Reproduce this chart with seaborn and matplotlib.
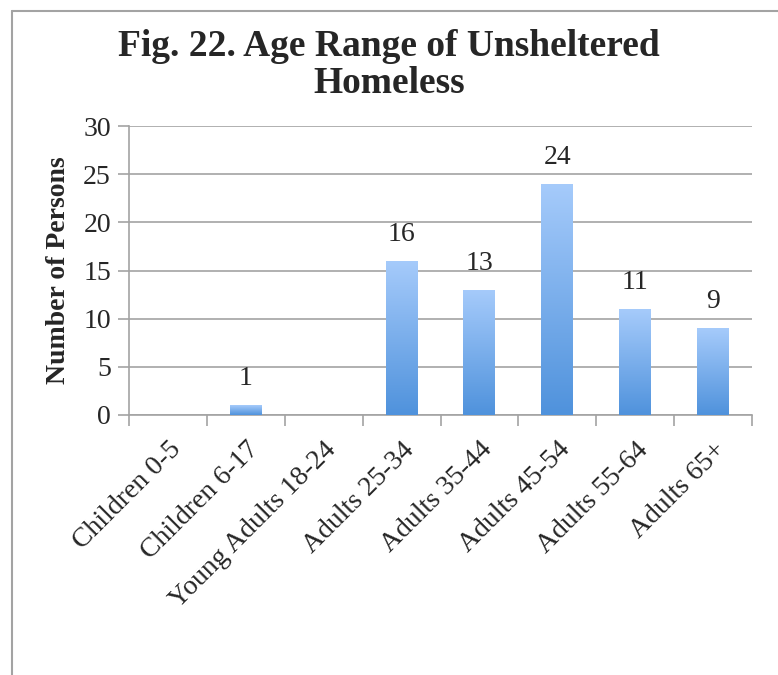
import numpy as np
import pandas as pd
import matplotlib
matplotlib.use('Agg')
import matplotlib.pyplot as plt
from matplotlib.colors import LinearSegmentedColormap
from matplotlib.lines import Line2D
import seaborn as sns

categories = ['Children 0-5', 'Children 6-17', 'Young Adults 18-24', 'Adults 25-34',
              'Adults 35-44', 'Adults 45-54', 'Adults 55-64', 'Adults 65+']
persons = [0, 1, 0, 16, 13, 24, 11, 9]
yticks = [0, 5, 10, 15, 20, 25, 30]

df = pd.DataFrame({'age': categories, 'persons': persons})

sns.set_style('white')
plt.rcParams['font.family'] = ['Liberation Serif', 'DejaVu Serif']

fig = plt.figure(figsize=(7.78, 6.75), dpi=100)
ax = fig.add_axes([129 / 778, 1 - 415 / 675, 623 / 778, 289 / 675])

sns.barplot(df, x='age', y='persons', width=0.41, color='#6fa6e6', ax=ax, zorder=2)

# vertical gradient inside each bar, light at the top, darker at the bottom
grad = LinearSegmentedColormap.from_list('bar', ['#4f92dc', '#a6cbfb'])
g = np.linspace(0, 1, 256).reshape(-1, 1)
for p in ax.patches:
    x0, y0 = p.get_x(), p.get_y()
    w, h = p.get_width(), p.get_height()
    if h <= 0:
        p.set_visible(False)
        continue
    im = ax.imshow(g, cmap=grad, aspect='auto', origin='lower',
                   extent=[x0, x0 + w, y0, y0 + h], zorder=3)
    im.set_clip_path(p)
    p.set_facecolor('none')
    p.set_edgecolor('none')

for i, v in enumerate(persons):
    if v > 0:
        ax.annotate(str(v), (i, v), xytext=(0, 10), textcoords='offset points',
                    ha='center', va='bottom', fontsize=20)

ax.set_xlim(-0.5, len(categories) - 0.5)
ax.set_ylim(0, 30)
ax.set_yticks(yticks)
ax.set_yticklabels([str(t) for t in yticks], fontsize=20)
ax.yaxis.grid(True, color='#a3a3a3', linewidth=1.2, zorder=0)
ax.set_axisbelow(True)

# ticks between categories, labels at centres
ax.set_xticks(np.arange(-0.5, len(categories), 1.0))
ax.set_xticklabels([])
ax.set_xticks(np.arange(len(categories)), minor=True)
ax.set_xticklabels(categories, minor=True, rotation=45, ha='right',
                   rotation_mode='anchor', fontsize=20)
ax.tick_params(axis='x', which='minor', length=0, pad=16)
ax.tick_params(axis='x', which='major', length=8, width=1.2, color='#a3a3a3', direction='out')
ax.tick_params(axis='y', length=8, width=1.2, color='#a3a3a3', direction='out', pad=5)
ax.tick_params(bottom=True, left=True, which='both')

for s in ['top', 'right']:
    ax.spines[s].set_visible(False)
for s in ['left', 'bottom']:
    ax.spines[s].set_color('#a3a3a3')
    ax.spines[s].set_linewidth(1.2)

ax.set_xlabel('')
ax.set_ylabel('Number of Persons', fontsize=20, fontweight='bold', labelpad=9)

fig.text(0.5, 1 - 65 / 675, 'Fig. 22. Age Range of Unsheltered\nHomeless',
         ha='center', va='center', fontsize=27, fontweight='bold', linespacing=1.05)

# outer frame (left and top edges)
fig.add_artist(Line2D([12 / 778, 12 / 778], [0, 1 - 11 / 675], transform=fig.transFigure,
                      color='#a3a3a3', linewidth=1.5))
fig.add_artist(Line2D([12 / 778, 1], [1 - 11 / 675, 1 - 11 / 675], transform=fig.transFigure,
                      color='#a3a3a3', linewidth=1.5))

fig.savefig('out.png', dpi=100)
